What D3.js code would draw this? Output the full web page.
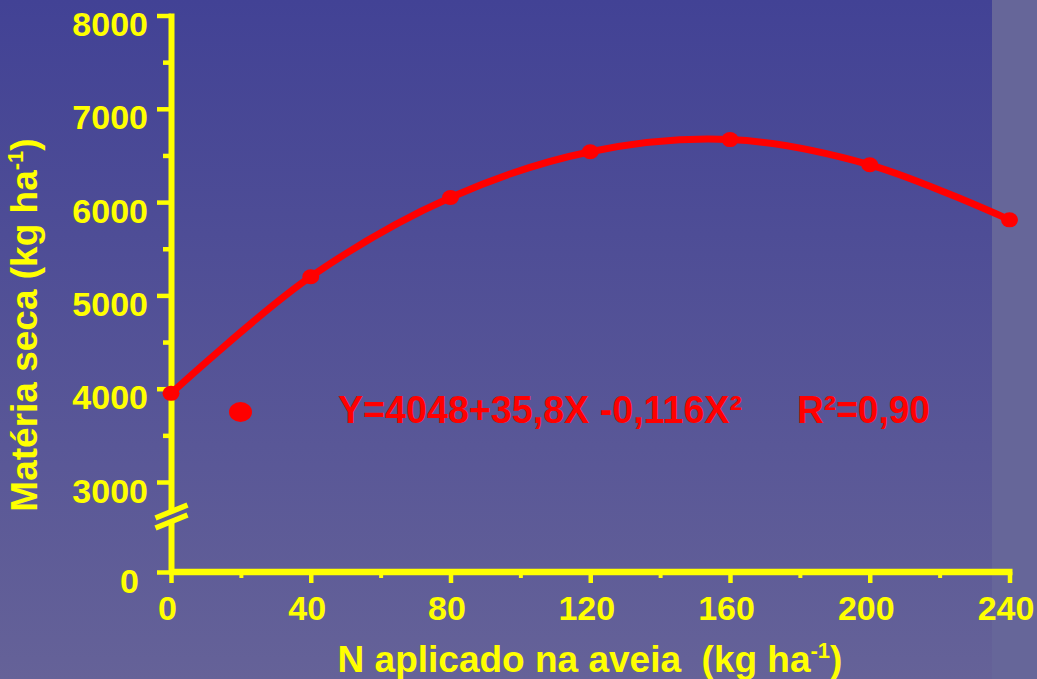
<!DOCTYPE html>
<html>
<head>
<meta charset="utf-8">
<script src="https://cdn.jsdelivr.net/npm/d3@7"></script>
<style>
  html, body { margin: 0; padding: 0; background: #555595; overflow: hidden; }
  svg { display: block; }
  text { font-family: "Liberation Sans", Arial, sans-serif; font-weight: bold; white-space: pre; }
</style>
</head>
<body>
<svg id="chart" width="1037" height="679"></svg>
<script>
// Nitrogen applied to oats (kg/ha) and the resulting dry matter (kg/ha)
const nitrogen  = [0, 40, 80, 120, 160, 200, 240];
const dryMatter = [3950, 5200, 6050, 6540, 6670, 6400, 5810];

// Axis ticks
const xTicks      = [0, 40, 80, 120, 160, 200, 240];
const xMinorTicks = [20, 60, 100, 140, 180, 220];
const yTicks      = [0, 3000, 4000, 5000, 6000, 7000, 8000];
const yMinorTicks = [3500, 4500, 5500, 6500, 7500];

// Text
const xTitle = "N aplicado na aveia  (kg ha";
const yTitle = "Matéria seca (kg ha";
const equationText = "Y=4048+35,8X -0,116X²";
const r2Text = "R²=0,90";

const W = 1037, H = 679;
const YELLOW = "#ffff00", RED = "#ff0000";

const svg = d3.select("#chart");

// Background: vertical blue gradient plus a flat lighter strip on the right
const defs = svg.append("defs");
const grad = defs.append("linearGradient").attr("id", "bg")
  .attr("x1", 0).attr("y1", 0).attr("x2", 0).attr("y2", 1);
grad.append("stop").attr("offset", "0%").attr("stop-color", "#424295");
grad.append("stop").attr("offset", "100%").attr("stop-color", "#656298");
svg.append("rect").attr("width", W).attr("height", H).attr("fill", "url(#bg)");
svg.append("rect").attr("x", 992).attr("y", 0).attr("width", W - 992).attr("height", H)
  .attr("fill", "#666699");

// Scales: the y axis is broken between 0 and 3000
const x = d3.scaleLinear().domain([0, 240]).range([171, 1009.5]);
const y = d3.scaleLinear().domain([0, 3000, 8000]).range([572, 482, 15.5]);

// ---- X axis ----
const xAxisG = svg.append("g").attr("transform", `translate(0,${y(0)})`);
xAxisG.call(d3.axisBottom(x).tickValues(xTicks).tickSize(11).tickFormat(d3.format("d")));
xAxisG.call(g => g.select(".domain").remove());
xAxisG.selectAll(".tick line").attr("stroke", YELLOW).attr("stroke-width", 4.5);
xAxisG.selectAll(".tick text")
  .attr("fill", YELLOW).attr("font-size", 34).attr("y", 48).attr("dy", 0).attr("dx", -4)
  .attr("font-family", null);

const xMinorG = svg.append("g").attr("transform", `translate(0,${y(0)})`);
xMinorG.call(d3.axisBottom(x).tickValues(xMinorTicks).tickSize(6).tickFormat(""));
xMinorG.call(g => g.select(".domain").remove());
xMinorG.selectAll(".tick line").attr("stroke", YELLOW).attr("stroke-width", 4);

svg.append("line")
  .attr("x1", x(0) - 2).attr("x2", x(240) + 3)
  .attr("y1", y(0)).attr("y2", y(0))
  .attr("stroke", YELLOW).attr("stroke-width", 6.5);

// ---- Y axis ----
const yAxisG = svg.append("g").attr("transform", `translate(${x(0)},0)`);
yAxisG.call(d3.axisLeft(y).tickValues(yTicks).tickSize(14).tickPadding(10).tickFormat(d3.format("d")));
yAxisG.call(g => g.select(".domain").remove());
yAxisG.selectAll(".tick line").attr("stroke", YELLOW).attr("stroke-width", 4.5);
yAxisG.selectAll(".tick text")
  .attr("fill", YELLOW).attr("font-size", 34).attr("y", 20).attr("dy", 0)
  .attr("x", d => d === 0 ? -32 : -23)
  .attr("font-family", null);

const yMinorG = svg.append("g").attr("transform", `translate(${x(0)},0)`);
yMinorG.call(d3.axisLeft(y).tickValues(yMinorTicks).tickSize(8).tickFormat(""));
yMinorG.call(g => g.select(".domain").remove());
yMinorG.selectAll(".tick line").attr("stroke", YELLOW).attr("stroke-width", 4.5);

// Axis line in two pieces around the break
const axX = x(0) + 0.5;
const breakTop = 511.5, breakBottom = 521.5;
svg.append("line").attr("x1", axX).attr("x2", axX)
  .attr("y1", y(8000) - 2).attr("y2", breakTop)
  .attr("stroke", YELLOW).attr("stroke-width", 6);
svg.append("line").attr("x1", axX).attr("x2", axX)
  .attr("y1", breakBottom).attr("y2", y(0))
  .attr("stroke", YELLOW).attr("stroke-width", 6);

// Break marks: two parallel slashes
[breakTop, breakBottom].forEach(cy => {
  svg.append("line")
    .attr("x1", axX - 16).attr("y1", cy + 6.5)
    .attr("x2", axX + 16).attr("y2", cy - 6.5)
    .attr("stroke", YELLOW).attr("stroke-width", 5.5);
});

// ---- Data: smooth curve and points ----
const pts = nitrogen.map((n, i) => [n, dryMatter[i]]);
const line = d3.line()
  .x(d => x(d[0])).y(d => y(d[1]))
  .curve(d3.curveCatmullRom.alpha(0.5));
svg.append("path").datum(pts)
  .attr("d", line)
  .attr("fill", "none").attr("stroke", RED).attr("stroke-width", 7)
  .attr("stroke-linejoin", "round").attr("stroke-linecap", "round");

svg.selectAll("ellipse.pt").data(pts).join("ellipse")
  .attr("class", "pt")
  .attr("cx", d => x(d[0])).attr("cy", d => y(d[1]))
  .attr("rx", 8.5).attr("ry", 7.5).attr("fill", RED);

// ---- Legend symbol and regression equation ----
svg.append("ellipse").attr("cx", 240.5).attr("cy", 412).attr("rx", 11.5).attr("ry", 10).attr("fill", RED);

svg.append("text").attr("x", 338).attr("y", 423)
  .attr("fill", RED).attr("font-size", 39)
  .attr("textLength", 404).attr("lengthAdjust", "spacingAndGlyphs")
  .text(equationText);

svg.append("text").attr("x", 797).attr("y", 423)
  .attr("fill", RED).attr("font-size", 39)
  .attr("textLength", 133).attr("lengthAdjust", "spacingAndGlyphs")
  .text(r2Text);

// ---- Axis titles ----
const xt = svg.append("text").attr("x", 590).attr("y", 672)
  .attr("text-anchor", "middle").attr("fill", YELLOW).attr("font-size", 37);
xt.append("tspan").text(xTitle);
xt.append("tspan").attr("font-size", 22).attr("dy", -14).text("-1");
xt.append("tspan").attr("dy", 14).text(")");

const yt = svg.append("text")
  .attr("transform", "translate(37,325) rotate(-90)")
  .attr("text-anchor", "middle").attr("fill", YELLOW).attr("font-size", 37);
yt.append("tspan").text(yTitle);
yt.append("tspan").attr("font-size", 22).attr("dy", -14).text("-1");
yt.append("tspan").attr("dy", 14).text(")");
</script>
</body>
</html>
